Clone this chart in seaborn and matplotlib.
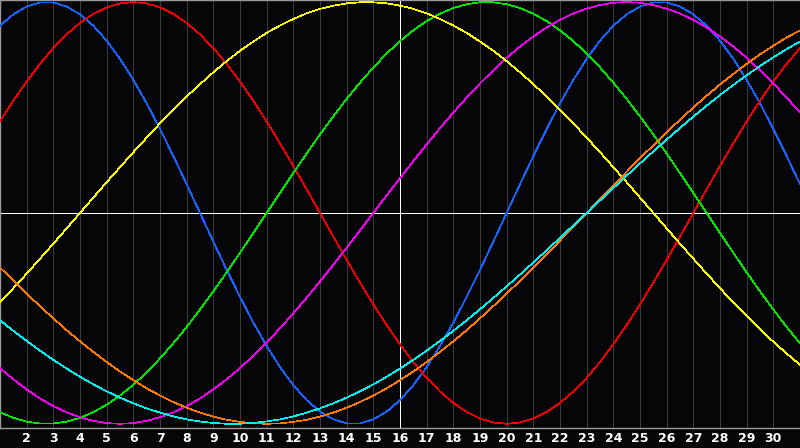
import matplotlib
matplotlib.use('Agg')
import matplotlib.pyplot as plt
import seaborn as sns
import numpy as np
import pandas as pd

days = np.arange(1, 31.5, 0.5)
day_labels = list(range(2, 31))
today = 16

# Значения циклов
physical = [0.888, 0.942, 0.979, 0.998, 0.998, 0.979, 0.942, 0.888, 0.817, 0.731,
            0.631, 0.520, 0.398, 0.270, 0.136, 0.0, -0.136, -0.270, -0.398, -0.520,
            -0.631, -0.731, -0.817, -0.888, -0.942, -0.979, -0.998, -0.998, -0.979, -0.942,
            -0.888, -0.817, -0.731, -0.631, -0.520, -0.398, -0.270, -0.136, 0.0, 0.136,
            0.270, 0.398, 0.520, 0.631, 0.731, 0.817, 0.888, 0.942, 0.979, 0.998,
            0.998, 0.979, 0.942, 0.888, 0.817, 0.731, 0.631, 0.520, 0.398, 0.270, 0.136]
emotional = [0.434, 0.532, 0.623, 0.707, 0.782, 0.847, 0.901, 0.944, 0.975, 0.994,
             1.0, 0.994, 0.975, 0.944, 0.901, 0.847, 0.782, 0.707, 0.623, 0.532,
             0.434, 0.330, 0.223, 0.112, 0.0, -0.112, -0.223, -0.330, -0.434, -0.532,
             -0.623, -0.707, -0.782, -0.847, -0.901, -0.944, -0.975, -0.994, -1.0, -0.994,
             -0.975, -0.944, -0.901, -0.847, -0.782, -0.707, -0.623, -0.532, -0.434, -0.330,
             -0.223, -0.112, 0.0, 0.112, 0.223, 0.330, 0.434, 0.532, 0.623, 0.707, 0.782]
intellectual = [-0.945, -0.972, -0.990, -0.999, -0.999, -0.990, -0.972, -0.945, -0.910, -0.866,
                -0.815, -0.756, -0.690, -0.618, -0.541, -0.458, -0.372, -0.282, -0.189, -0.095,
                0.0, 0.095, 0.189, 0.282, 0.372, 0.458, 0.541, 0.618, 0.690, 0.756,
                0.815, 0.866, 0.910, 0.945, 0.972, 0.990, 0.999, 0.999, 0.990, 0.972,
                0.945, 0.910, 0.866, 0.815, 0.756, 0.690, 0.618, 0.541, 0.458, 0.372,
                0.282, 0.189, 0.095, 0.0, -0.095, -0.189, -0.282, -0.372, -0.458, -0.541, -0.618]
intuitive = [-0.736, -0.789, -0.837, -0.880, -0.916, -0.946, -0.969, -0.986, -0.997, -1.0,
             -0.997, -0.986, -0.969, -0.946, -0.916, -0.880, -0.837, -0.789, -0.736, -0.677,
             -0.614, -0.547, -0.476, -0.402, -0.325, -0.246, -0.165, -0.083, 0.0, 0.083,
             0.165, 0.246, 0.325, 0.402, 0.476, 0.547, 0.614, 0.677, 0.736, 0.789,
             0.837, 0.880, 0.916, 0.946, 0.969, 0.986, 0.997, 1.0, 0.997, 0.986,
             0.969, 0.946, 0.916, 0.880, 0.837, 0.789, 0.736, 0.677, 0.614, 0.547, 0.476]
aesthetic = [-0.425, -0.357, -0.288, -0.217, -0.146, -0.073, 0.0, 0.073, 0.146, 0.217,
             0.288, 0.357, 0.425, 0.489, 0.552, 0.611, 0.667, 0.720, 0.769, 0.813,
             0.854, 0.889, 0.920, 0.947, 0.968, 0.983, 0.994, 0.999, 0.999, 0.994,
             0.983, 0.968, 0.947, 0.920, 0.889, 0.854, 0.813, 0.769, 0.720, 0.667,
             0.611, 0.552, 0.489, 0.425, 0.357, 0.288, 0.217, 0.146, 0.073, 0.0,
             -0.073, -0.146, -0.217, -0.288, -0.357, -0.425, -0.489, -0.552, -0.611, -0.667, -0.720]
awareness = [-0.259, -0.321, -0.383, -0.442, -0.5, -0.556, -0.609, -0.659, -0.707, -0.752,
             -0.793, -0.832, -0.866, -0.897, -0.924, -0.947, -0.966, -0.981, -0.991, -0.998,
             -1.0, -0.998, -0.991, -0.981, -0.966, -0.947, -0.924, -0.897, -0.866, -0.832,
             -0.793, -0.752, -0.707, -0.659, -0.609, -0.556, -0.5, -0.442, -0.383, -0.321,
             -0.259, -0.195, -0.131, -0.065, 0.0, 0.065, 0.131, 0.195, 0.259, 0.321,
             0.383, 0.442, 0.5, 0.556, 0.609, 0.659, 0.707, 0.752, 0.793, 0.832, 0.866]
spiritual = [-0.509, -0.559, -0.607, -0.653, -0.697, -0.738, -0.777, -0.813, -0.846, -0.876,
             -0.903, -0.927, -0.947, -0.965, -0.979, -0.989, -0.996, -1.0, -1.0, -0.996,
             -0.989, -0.979, -0.965, -0.947, -0.927, -0.903, -0.876, -0.846, -0.813, -0.777,
             -0.738, -0.697, -0.653, -0.607, -0.559, -0.509, -0.457, -0.403, -0.348, -0.292,
             -0.235, -0.177, -0.118, -0.059, 0.0, 0.059, 0.118, 0.177, 0.235, 0.292,
             0.348, 0.403, 0.457, 0.509, 0.559, 0.607, 0.653, 0.697, 0.738, 0.777, 0.813]

cycles = {
    'physical': physical,
    'emotional': emotional,
    'intellectual': intellectual,
    'intuitive': intuitive,
    'aesthetic': aesthetic,
    'awareness': awareness,
    'spiritual': spiritual,
}
colors = {
    'physical': '#1464ff',
    'emotional': '#f00000',
    'intellectual': '#00e600',
    'intuitive': '#f000f0',
    'aesthetic': '#ffff00',
    'awareness': '#ff7800',
    'spiritual': '#00f0f0',
}

df = pd.DataFrame([
    {'day': d, 'value': v, 'cycle': name}
    for name, values in cycles.items()
    for d, v in zip(days, values)
])

sns.set_style('dark')
plt.rcParams['font.family'] = ['DejaVu Sans']

bg = '#060608'
px = 0.72  # 1 пиксель при dpi=100

fig = plt.figure(figsize=(8, 4.48), dpi=100, facecolor=bg)
ax = fig.add_axes([0, 20 / 448, 1, 428 / 448])
ax.set_facecolor(bg)

# Сетка по дням
for d in day_labels:
    ax.axvline(d, color='#3a3a3a', lw=px, zorder=1, antialiased=False)

# Нулевая линия и сегодняшний день
ax.axhline(0, color='white', lw=px, zorder=2, antialiased=False)
ax.axvline(today, color='white', lw=px, zorder=2, antialiased=False)

n_before = len(ax.lines)
sns.lineplot(data=df, x='day', y='value', hue='cycle', palette=colors,
             legend=False, ax=ax, zorder=3)
# тонкие линии без сглаживания, как в оригинале
for line in ax.lines[n_before:]:
    line.set_linewidth(0.5)
    line.set_antialiased(False)

ax.set_xlim(1, 31)
ax.set_ylim(-1.02, 1.01)
ax.set_xticks(day_labels)
ax.set_xticklabels([str(d) for d in day_labels], color='white',
                   fontsize=9, fontweight='bold')
ax.tick_params(axis='x', length=0, pad=3)
ax.set_yticks([])
ax.set_xlabel('')
ax.set_ylabel('')
ax.grid(False)

for side in ['left', 'top', 'bottom']:
    ax.spines[side].set_visible(True)
    ax.spines[side].set_color('#9a9a9a')
    ax.spines[side].set_linewidth(1.4 * px)
ax.spines['right'].set_visible(False)

fig.savefig('out.png', dpi=100, facecolor=bg)
